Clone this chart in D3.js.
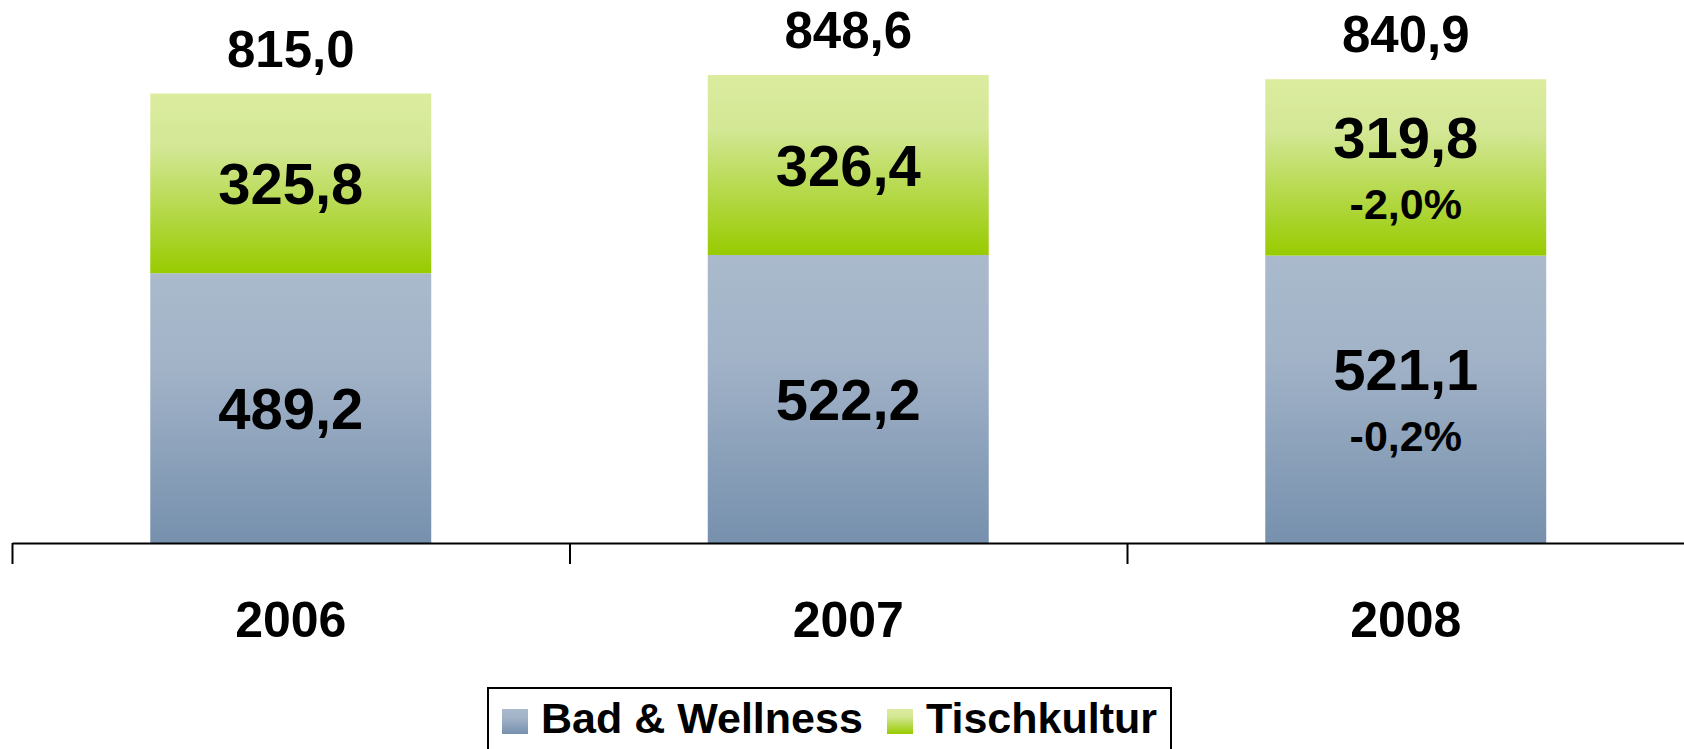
<!DOCTYPE html>
<html>
<head>
<meta charset="utf-8">
<script src="https://cdn.jsdelivr.net/npm/d3@7"></script>
<style>
  body { margin: 0; background: #fff; }
  svg { display: block; font-family: "Liberation Sans", Arial, sans-serif; font-weight: bold; }
</style>
</head>
<body>
<svg width="1684" height="749"></svg>
<script>
var years = ['2006', '2007', '2008']
var badWellness = [489.2, 522.2, 521.1]
var tischkultur = [325.8, 326.4, 319.8]
var totals = [815.0, 848.6, 840.9]
var badChange = [null, null, '-0,2%']
var tischChange = [null, null, '-2,0%']
var seriesNames = ['Bad & Wellness', 'Tischkultur']

var width = 1684
var height = 749
var axisY = 543

var svg = d3.select('svg')

var fmt = function(v) { return d3.format('.1f')(v).replace('.', ',') }

// gradients
var defs = svg.append('defs')
var gBlue = defs.append('linearGradient').attr('id', 'gradBlue').attr('x1', 0).attr('y1', 0).attr('x2', 0).attr('y2', 1)
gBlue.append('stop').attr('offset', '0%').attr('stop-color', '#aabacc')
gBlue.append('stop').attr('offset', '35%').attr('stop-color', '#a2b3c8')
gBlue.append('stop').attr('offset', '100%').attr('stop-color', '#7690ad')
var gGreen = defs.append('linearGradient').attr('id', 'gradGreen').attr('x1', 0).attr('y1', 0).attr('x2', 0).attr('y2', 1)
gGreen.append('stop').attr('offset', '0%').attr('stop-color', '#dcec9f')
gGreen.append('stop').attr('offset', '30%').attr('stop-color', '#d3e795')
gGreen.append('stop').attr('offset', '100%').attr('stop-color', '#98cb00')

var xScale = d3.scaleBand()
  .domain(years)
  .range([12, 12 + 3 * 557.5])
  .paddingInner(0.496)
  .paddingOuter(0.248)

var yScale = d3.scaleLinear()
  .domain([0, 1000])
  .range([axisY, axisY - 551.5])

var rows = years.map(function(y, i) {
  return { year: y, bad: badWellness[i], tisch: tischkultur[i], total: totals[i], badChg: badChange[i], tischChg: tischChange[i] }
})

// bars
var bars = svg.append('g').selectAll('g').data(rows).enter().append('g')

bars.append('rect')
  .attr('x', function(d) { return xScale(d.year) })
  .attr('width', xScale.bandwidth())
  .attr('y', function(d) { return yScale(d.bad) })
  .attr('height', function(d) { return yScale(0) - yScale(d.bad) })
  .attr('fill', 'url(#gradBlue)')

bars.append('rect')
  .attr('x', function(d) { return xScale(d.year) })
  .attr('width', xScale.bandwidth())
  .attr('y', function(d) { return yScale(d.bad + d.tisch) })
  .attr('height', function(d) { return yScale(d.bad) - yScale(d.bad + d.tisch) })
  .attr('fill', 'url(#gradGreen)')

var cx = function(d) { return xScale(d.year) + xScale.bandwidth() / 2 }

// segment labels
function segLabel(lo, hi, val, chg) {
  bars.each(function(d) {
    var g = d3.select(this)
    var mid = (yScale(lo(d)) + yScale(hi(d))) / 2
    var c = chg(d)
    g.append('text')
      .attr('x', cx(d))
      .attr('y', c ? mid - 9 : mid + 20.5)
      .attr('text-anchor', 'middle')
      .attr('font-size', '58px')
      .text(fmt(val(d)))
    if (c) {
      g.append('text')
        .attr('x', cx(d))
        .attr('y', mid + 52)
        .attr('text-anchor', 'middle')
        .attr('font-size', '43px')
        .text(c)
    }
  })
}
segLabel(function(d) { return 0 }, function(d) { return d.bad }, function(d) { return d.bad }, function(d) { return d.badChg })
segLabel(function(d) { return d.bad }, function(d) { return d.bad + d.tisch }, function(d) { return d.tisch }, function(d) { return d.tischChg })

// totals
bars.append('text')
  .attr('x', cx)
  .attr('y', function(d) { return yScale(d.total) - 27 })
  .attr('text-anchor', 'middle')
  .attr('font-size', '51px')
  .text(function(d) { return fmt(d.total) })

// axis with ticks between categories
var tickScale = d3.scaleLinear().domain([0, 3]).range([12, 12 + 3 * 557.5])
var axis = svg.append('g')
  .attr('transform', 'translate(0,' + axisY + ')')
  .call(d3.axisBottom(tickScale).tickValues([0, 1, 2, 3]).tickSize(21).tickSizeOuter(0).tickFormat(''))
axis.selectAll('path, line').attr('stroke', '#000').attr('stroke-width', 2)

svg.append('g').selectAll('text').data(years).enter().append('text')
  .attr('x', function(d) { return xScale(d) + xScale.bandwidth() / 2 })
  .attr('y', 637)
  .attr('text-anchor', 'middle')
  .attr('font-size', '50px')
  .text(function(d) { return d })

// legend
var legend = svg.append('g')
legend.append('rect')
  .attr('x', 488).attr('y', 688).attr('width', 683).attr('height', 80)
  .attr('fill', '#fff').attr('stroke', '#000').attr('stroke-width', 2)

var legendItems = [
  { name: seriesNames[0], fill: 'url(#gradBlue)', x: 502 },
  { name: seriesNames[1], fill: 'url(#gradGreen)', x: 887 }
]
legendItems.forEach(function(it) {
  legend.append('rect')
    .attr('x', it.x).attr('y', 709).attr('width', 26).attr('height', 25)
    .attr('fill', it.fill)
  legend.append('text')
    .attr('x', it.x + 39).attr('y', 733)
    .attr('font-size', '43px')
    .text(it.name)
})
</script>
</body>
</html>
